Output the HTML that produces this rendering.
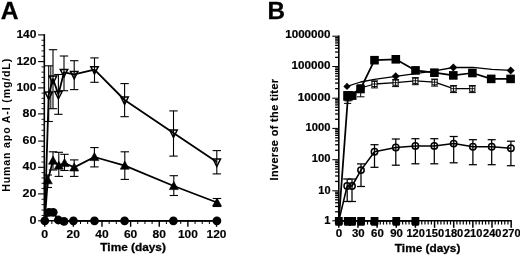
<!DOCTYPE html>
<html><head><meta charset="utf-8"><title>Figure</title>
<style>
html,body{margin:0;padding:0;background:#fff;}
body{width:520px;height:255px;overflow:hidden;font-family:"Liberation Sans",sans-serif;}
svg{display:block;filter:blur(0.3px)}
</style></head><body>
<svg width="520" height="255" viewBox="0 0 520 255">
<rect width="520" height="255" fill="#fff"/>
<text x="0.8" y="19.4" font-family="Liberation Sans, sans-serif" font-size="24.6" font-weight="bold" text-anchor="start" fill="#000" stroke="#000" stroke-width="0.3">A</text>
<line x1="44.30" y1="34.20" x2="44.30" y2="221.55" stroke="#000" stroke-width="1.6" />
<line x1="43.90" y1="220.80" x2="217.14" y2="220.80" stroke="#000" stroke-width="1.5" />
<line x1="38.10" y1="220.80" x2="44.30" y2="220.80" stroke="#000" stroke-width="1.1" />
<text x="36.4" y="223.8" font-family="Liberation Sans, sans-serif" font-size="11" font-weight="bold" text-anchor="end" fill="#000" stroke="#000" stroke-width="0.15" textLength="7.0" lengthAdjust="spacingAndGlyphs">0</text>
<line x1="41.50" y1="215.42" x2="44.30" y2="215.42" stroke="#000" stroke-width="0.9" />
<line x1="41.50" y1="210.04" x2="44.30" y2="210.04" stroke="#000" stroke-width="0.9" />
<line x1="41.50" y1="204.66" x2="44.30" y2="204.66" stroke="#000" stroke-width="0.9" />
<line x1="41.50" y1="199.28" x2="44.30" y2="199.28" stroke="#000" stroke-width="0.9" />
<line x1="38.10" y1="193.90" x2="44.30" y2="193.90" stroke="#000" stroke-width="1.1" />
<text x="36.4" y="196.9" font-family="Liberation Sans, sans-serif" font-size="11" font-weight="bold" text-anchor="end" fill="#000" stroke="#000" stroke-width="0.15" textLength="13.8" lengthAdjust="spacingAndGlyphs">20</text>
<line x1="41.50" y1="188.58" x2="44.30" y2="188.58" stroke="#000" stroke-width="0.9" />
<line x1="41.50" y1="183.26" x2="44.30" y2="183.26" stroke="#000" stroke-width="0.9" />
<line x1="41.50" y1="177.94" x2="44.30" y2="177.94" stroke="#000" stroke-width="0.9" />
<line x1="41.50" y1="172.62" x2="44.30" y2="172.62" stroke="#000" stroke-width="0.9" />
<line x1="38.10" y1="167.30" x2="44.30" y2="167.30" stroke="#000" stroke-width="1.1" />
<text x="36.4" y="170.3" font-family="Liberation Sans, sans-serif" font-size="11" font-weight="bold" text-anchor="end" fill="#000" stroke="#000" stroke-width="0.15" textLength="13.8" lengthAdjust="spacingAndGlyphs">40</text>
<line x1="41.50" y1="162.06" x2="44.30" y2="162.06" stroke="#000" stroke-width="0.9" />
<line x1="41.50" y1="156.82" x2="44.30" y2="156.82" stroke="#000" stroke-width="0.9" />
<line x1="41.50" y1="151.58" x2="44.30" y2="151.58" stroke="#000" stroke-width="0.9" />
<line x1="41.50" y1="146.34" x2="44.30" y2="146.34" stroke="#000" stroke-width="0.9" />
<line x1="38.10" y1="141.10" x2="44.30" y2="141.10" stroke="#000" stroke-width="1.1" />
<text x="36.4" y="144.1" font-family="Liberation Sans, sans-serif" font-size="11" font-weight="bold" text-anchor="end" fill="#000" stroke="#000" stroke-width="0.15" textLength="13.8" lengthAdjust="spacingAndGlyphs">60</text>
<line x1="41.50" y1="135.66" x2="44.30" y2="135.66" stroke="#000" stroke-width="0.9" />
<line x1="41.50" y1="130.22" x2="44.30" y2="130.22" stroke="#000" stroke-width="0.9" />
<line x1="41.50" y1="124.78" x2="44.30" y2="124.78" stroke="#000" stroke-width="0.9" />
<line x1="41.50" y1="119.34" x2="44.30" y2="119.34" stroke="#000" stroke-width="0.9" />
<line x1="38.10" y1="113.90" x2="44.30" y2="113.90" stroke="#000" stroke-width="1.1" />
<text x="36.4" y="116.9" font-family="Liberation Sans, sans-serif" font-size="11" font-weight="bold" text-anchor="end" fill="#000" stroke="#000" stroke-width="0.15" textLength="13.8" lengthAdjust="spacingAndGlyphs">80</text>
<line x1="41.50" y1="108.70" x2="44.30" y2="108.70" stroke="#000" stroke-width="0.9" />
<line x1="41.50" y1="103.50" x2="44.30" y2="103.50" stroke="#000" stroke-width="0.9" />
<line x1="41.50" y1="98.30" x2="44.30" y2="98.30" stroke="#000" stroke-width="0.9" />
<line x1="41.50" y1="93.10" x2="44.30" y2="93.10" stroke="#000" stroke-width="0.9" />
<line x1="38.10" y1="87.90" x2="44.30" y2="87.90" stroke="#000" stroke-width="1.1" />
<text x="36.4" y="90.9" font-family="Liberation Sans, sans-serif" font-size="11" font-weight="bold" text-anchor="end" fill="#000" stroke="#000" stroke-width="0.15" textLength="20.0" lengthAdjust="spacingAndGlyphs">100</text>
<line x1="41.50" y1="82.64" x2="44.30" y2="82.64" stroke="#000" stroke-width="0.9" />
<line x1="41.50" y1="77.38" x2="44.30" y2="77.38" stroke="#000" stroke-width="0.9" />
<line x1="41.50" y1="72.12" x2="44.30" y2="72.12" stroke="#000" stroke-width="0.9" />
<line x1="41.50" y1="66.86" x2="44.30" y2="66.86" stroke="#000" stroke-width="0.9" />
<line x1="38.10" y1="61.60" x2="44.30" y2="61.60" stroke="#000" stroke-width="1.1" />
<text x="36.4" y="64.6" font-family="Liberation Sans, sans-serif" font-size="11" font-weight="bold" text-anchor="end" fill="#000" stroke="#000" stroke-width="0.15" textLength="20.0" lengthAdjust="spacingAndGlyphs">120</text>
<line x1="41.50" y1="56.26" x2="44.30" y2="56.26" stroke="#000" stroke-width="0.9" />
<line x1="41.50" y1="50.92" x2="44.30" y2="50.92" stroke="#000" stroke-width="0.9" />
<line x1="41.50" y1="45.58" x2="44.30" y2="45.58" stroke="#000" stroke-width="0.9" />
<line x1="41.50" y1="40.24" x2="44.30" y2="40.24" stroke="#000" stroke-width="0.9" />
<line x1="38.10" y1="34.90" x2="44.30" y2="34.90" stroke="#000" stroke-width="1.1" />
<text x="36.4" y="37.9" font-family="Liberation Sans, sans-serif" font-size="11" font-weight="bold" text-anchor="end" fill="#000" stroke="#000" stroke-width="0.15" textLength="20.0" lengthAdjust="spacingAndGlyphs">140</text>
<line x1="44.70" y1="220.80" x2="44.70" y2="226.80" stroke="#000" stroke-width="1.4" />
<text x="44.7" y="237.5" font-family="Liberation Sans, sans-serif" font-size="11" font-weight="bold" text-anchor="middle" fill="#000" stroke="#000" stroke-width="0.15" textLength="6.9" lengthAdjust="spacingAndGlyphs">0</text>
<line x1="51.86" y1="220.80" x2="51.86" y2="224.00" stroke="#000" stroke-width="1.0" />
<line x1="59.02" y1="220.80" x2="59.02" y2="224.00" stroke="#000" stroke-width="1.0" />
<line x1="66.18" y1="220.80" x2="66.18" y2="224.00" stroke="#000" stroke-width="1.0" />
<line x1="73.34" y1="220.80" x2="73.34" y2="226.80" stroke="#000" stroke-width="1.4" />
<text x="73.34" y="237.5" font-family="Liberation Sans, sans-serif" font-size="11" font-weight="bold" text-anchor="middle" fill="#000" stroke="#000" stroke-width="0.15" textLength="13.4" lengthAdjust="spacingAndGlyphs">20</text>
<line x1="80.50" y1="220.80" x2="80.50" y2="224.00" stroke="#000" stroke-width="1.0" />
<line x1="87.66" y1="220.80" x2="87.66" y2="224.00" stroke="#000" stroke-width="1.0" />
<line x1="94.82" y1="220.80" x2="94.82" y2="224.00" stroke="#000" stroke-width="1.0" />
<line x1="101.98" y1="220.80" x2="101.98" y2="226.80" stroke="#000" stroke-width="1.4" />
<text x="101.98" y="237.5" font-family="Liberation Sans, sans-serif" font-size="11" font-weight="bold" text-anchor="middle" fill="#000" stroke="#000" stroke-width="0.15" textLength="13.4" lengthAdjust="spacingAndGlyphs">40</text>
<line x1="109.14" y1="220.80" x2="109.14" y2="224.00" stroke="#000" stroke-width="1.0" />
<line x1="116.30" y1="220.80" x2="116.30" y2="224.00" stroke="#000" stroke-width="1.0" />
<line x1="123.46" y1="220.80" x2="123.46" y2="224.00" stroke="#000" stroke-width="1.0" />
<line x1="130.62" y1="220.80" x2="130.62" y2="226.80" stroke="#000" stroke-width="1.4" />
<text x="130.62" y="237.5" font-family="Liberation Sans, sans-serif" font-size="11" font-weight="bold" text-anchor="middle" fill="#000" stroke="#000" stroke-width="0.15" textLength="13.4" lengthAdjust="spacingAndGlyphs">60</text>
<line x1="137.78" y1="220.80" x2="137.78" y2="224.00" stroke="#000" stroke-width="1.0" />
<line x1="144.94" y1="220.80" x2="144.94" y2="224.00" stroke="#000" stroke-width="1.0" />
<line x1="152.10" y1="220.80" x2="152.10" y2="224.00" stroke="#000" stroke-width="1.0" />
<line x1="159.26" y1="220.80" x2="159.26" y2="226.80" stroke="#000" stroke-width="1.4" />
<text x="159.26" y="237.5" font-family="Liberation Sans, sans-serif" font-size="11" font-weight="bold" text-anchor="middle" fill="#000" stroke="#000" stroke-width="0.15" textLength="13.4" lengthAdjust="spacingAndGlyphs">80</text>
<line x1="166.42" y1="220.80" x2="166.42" y2="224.00" stroke="#000" stroke-width="1.0" />
<line x1="173.58" y1="220.80" x2="173.58" y2="224.00" stroke="#000" stroke-width="1.0" />
<line x1="180.74" y1="220.80" x2="180.74" y2="224.00" stroke="#000" stroke-width="1.0" />
<line x1="187.90" y1="220.80" x2="187.90" y2="226.80" stroke="#000" stroke-width="1.4" />
<text x="187.89999999999998" y="237.5" font-family="Liberation Sans, sans-serif" font-size="11" font-weight="bold" text-anchor="middle" fill="#000" stroke="#000" stroke-width="0.15" textLength="19.9" lengthAdjust="spacingAndGlyphs">100</text>
<line x1="195.06" y1="220.80" x2="195.06" y2="224.00" stroke="#000" stroke-width="1.0" />
<line x1="202.22" y1="220.80" x2="202.22" y2="224.00" stroke="#000" stroke-width="1.0" />
<line x1="209.38" y1="220.80" x2="209.38" y2="224.00" stroke="#000" stroke-width="1.0" />
<line x1="216.54" y1="220.80" x2="216.54" y2="226.80" stroke="#000" stroke-width="1.4" />
<text x="216.54000000000002" y="237.5" font-family="Liberation Sans, sans-serif" font-size="11" font-weight="bold" text-anchor="middle" fill="#000" stroke="#000" stroke-width="0.15" textLength="19.9" lengthAdjust="spacingAndGlyphs">120</text>
<text x="133.1" y="251.4" font-family="Liberation Sans, sans-serif" font-size="11.5" font-weight="bold" text-anchor="middle" fill="#000" stroke="#000" stroke-width="0.3" textLength="65.5" lengthAdjust="spacingAndGlyphs">Time (days)</text>
<text x="9.6" y="191.8" font-family="Liberation Sans, sans-serif" font-size="10.6" font-weight="bold" text-anchor="start" fill="#000" stroke="#000" stroke-width="0" textLength="133.0" lengthAdjust="spacing" transform="rotate(-90 9.6 191.8)">Human apo A-I (mg/dL)</text>
<line x1="48.70" y1="65.80" x2="48.70" y2="121.50" stroke="#000" stroke-width="1.1" />
<line x1="44.50" y1="65.80" x2="52.90" y2="65.80" stroke="#000" stroke-width="1.1" />
<line x1="44.50" y1="121.50" x2="52.90" y2="121.50" stroke="#000" stroke-width="1.1" />
<line x1="53.00" y1="49.70" x2="53.00" y2="108.70" stroke="#000" stroke-width="1.1" />
<line x1="48.80" y1="49.70" x2="57.20" y2="49.70" stroke="#000" stroke-width="1.1" />
<line x1="48.80" y1="108.70" x2="57.20" y2="108.70" stroke="#000" stroke-width="1.1" />
<line x1="58.40" y1="74.50" x2="58.40" y2="114.30" stroke="#000" stroke-width="1.1" />
<line x1="54.20" y1="74.50" x2="62.60" y2="74.50" stroke="#000" stroke-width="1.1" />
<line x1="54.20" y1="114.30" x2="62.60" y2="114.30" stroke="#000" stroke-width="1.1" />
<line x1="64.00" y1="56.00" x2="64.00" y2="90.70" stroke="#000" stroke-width="1.1" />
<line x1="59.80" y1="56.00" x2="68.20" y2="56.00" stroke="#000" stroke-width="1.1" />
<line x1="59.80" y1="90.70" x2="68.20" y2="90.70" stroke="#000" stroke-width="1.1" />
<line x1="74.20" y1="60.70" x2="74.20" y2="89.60" stroke="#000" stroke-width="1.1" />
<line x1="70.00" y1="60.70" x2="78.40" y2="60.70" stroke="#000" stroke-width="1.1" />
<line x1="70.00" y1="89.60" x2="78.40" y2="89.60" stroke="#000" stroke-width="1.1" />
<line x1="94.50" y1="57.90" x2="94.50" y2="82.30" stroke="#000" stroke-width="1.1" />
<line x1="90.30" y1="57.90" x2="98.70" y2="57.90" stroke="#000" stroke-width="1.1" />
<line x1="90.30" y1="82.30" x2="98.70" y2="82.30" stroke="#000" stroke-width="1.1" />
<line x1="124.60" y1="83.60" x2="124.60" y2="116.70" stroke="#000" stroke-width="1.1" />
<line x1="120.40" y1="83.60" x2="128.80" y2="83.60" stroke="#000" stroke-width="1.1" />
<line x1="120.40" y1="116.70" x2="128.80" y2="116.70" stroke="#000" stroke-width="1.1" />
<line x1="173.50" y1="110.90" x2="173.50" y2="156.10" stroke="#000" stroke-width="1.1" />
<line x1="169.30" y1="110.90" x2="177.70" y2="110.90" stroke="#000" stroke-width="1.1" />
<line x1="169.30" y1="156.10" x2="177.70" y2="156.10" stroke="#000" stroke-width="1.1" />
<line x1="216.80" y1="150.60" x2="216.80" y2="173.90" stroke="#000" stroke-width="1.1" />
<line x1="212.60" y1="150.60" x2="221.00" y2="150.60" stroke="#000" stroke-width="1.1" />
<line x1="212.60" y1="173.90" x2="221.00" y2="173.90" stroke="#000" stroke-width="1.1" />
<line x1="47.80" y1="175.00" x2="47.80" y2="187.50" stroke="#000" stroke-width="1.1" />
<line x1="43.60" y1="175.00" x2="52.00" y2="175.00" stroke="#000" stroke-width="1.1" />
<line x1="43.60" y1="187.50" x2="52.00" y2="187.50" stroke="#000" stroke-width="1.1" />
<line x1="53.00" y1="151.80" x2="53.00" y2="170.00" stroke="#000" stroke-width="1.1" />
<line x1="48.80" y1="151.80" x2="57.20" y2="151.80" stroke="#000" stroke-width="1.1" />
<line x1="48.80" y1="170.00" x2="57.20" y2="170.00" stroke="#000" stroke-width="1.1" />
<line x1="58.80" y1="152.30" x2="58.80" y2="176.40" stroke="#000" stroke-width="1.1" />
<line x1="54.60" y1="152.30" x2="63.00" y2="152.30" stroke="#000" stroke-width="1.1" />
<line x1="54.60" y1="176.40" x2="63.00" y2="176.40" stroke="#000" stroke-width="1.1" />
<line x1="64.50" y1="154.30" x2="64.50" y2="170.50" stroke="#000" stroke-width="1.1" />
<line x1="60.30" y1="154.30" x2="68.70" y2="154.30" stroke="#000" stroke-width="1.1" />
<line x1="60.30" y1="170.50" x2="68.70" y2="170.50" stroke="#000" stroke-width="1.1" />
<line x1="74.20" y1="159.90" x2="74.20" y2="176.40" stroke="#000" stroke-width="1.1" />
<line x1="70.00" y1="159.90" x2="78.40" y2="159.90" stroke="#000" stroke-width="1.1" />
<line x1="70.00" y1="176.40" x2="78.40" y2="176.40" stroke="#000" stroke-width="1.1" />
<line x1="94.40" y1="147.60" x2="94.40" y2="166.90" stroke="#000" stroke-width="1.1" />
<line x1="90.20" y1="147.60" x2="98.60" y2="147.60" stroke="#000" stroke-width="1.1" />
<line x1="90.20" y1="166.90" x2="98.60" y2="166.90" stroke="#000" stroke-width="1.1" />
<line x1="124.80" y1="151.80" x2="124.80" y2="179.40" stroke="#000" stroke-width="1.1" />
<line x1="120.60" y1="151.80" x2="129.00" y2="151.80" stroke="#000" stroke-width="1.1" />
<line x1="120.60" y1="179.40" x2="129.00" y2="179.40" stroke="#000" stroke-width="1.1" />
<line x1="173.80" y1="175.70" x2="173.80" y2="195.50" stroke="#000" stroke-width="1.1" />
<line x1="169.60" y1="175.70" x2="178.00" y2="175.70" stroke="#000" stroke-width="1.1" />
<line x1="169.60" y1="195.50" x2="178.00" y2="195.50" stroke="#000" stroke-width="1.1" />
<line x1="217.00" y1="198.50" x2="217.00" y2="206.50" stroke="#000" stroke-width="1.1" />
<line x1="212.80" y1="198.50" x2="221.20" y2="198.50" stroke="#000" stroke-width="1.1" />
<line x1="212.80" y1="206.50" x2="221.20" y2="206.50" stroke="#000" stroke-width="1.1" />
<line x1="50.80" y1="66.00" x2="50.80" y2="108.70" stroke="#000" stroke-width="1.0" />
<polyline points="44.70,220.80 48.70,94.80 53.00,79.00 58.40,94.40 64.00,72.30 74.20,74.40 94.50,69.60 124.60,100.00 173.50,133.00 216.80,162.00" fill="none" stroke="#000" stroke-width="1.8" stroke-linejoin="round" />
<polyline points="44.70,220.80 47.80,180.20 53.00,160.60 58.80,165.60 64.50,163.00 74.20,167.40 94.40,157.00 124.80,165.60 173.80,186.00 217.00,202.50" fill="none" stroke="#000" stroke-width="1.8" stroke-linejoin="round" />
<polyline points="44.80,220.80 49.00,212.30 53.20,212.30 58.30,220.00 64.00,221.40 73.40,220.80 94.50,220.80 124.60,220.80 173.40,220.80 216.90,220.80" fill="none" stroke="#000" stroke-width="1.8" stroke-linejoin="round" />
<polygon points="45.00,91.90 52.40,91.90 48.70,99.30" fill="none" stroke="#000" stroke-width="1.5" stroke-linejoin="miter"/>
<polygon points="49.30,76.10 56.70,76.10 53.00,83.50" fill="none" stroke="#000" stroke-width="1.5" stroke-linejoin="miter"/>
<polygon points="54.70,91.50 62.10,91.50 58.40,98.90" fill="none" stroke="#000" stroke-width="1.5" stroke-linejoin="miter"/>
<polygon points="60.30,69.40 67.70,69.40 64.00,76.80" fill="none" stroke="#000" stroke-width="1.5" stroke-linejoin="miter"/>
<polygon points="70.50,71.50 77.90,71.50 74.20,78.90" fill="none" stroke="#000" stroke-width="1.5" stroke-linejoin="miter"/>
<polygon points="90.80,66.70 98.20,66.70 94.50,74.10" fill="none" stroke="#000" stroke-width="1.5" stroke-linejoin="miter"/>
<polygon points="120.90,97.10 128.30,97.10 124.60,104.50" fill="none" stroke="#000" stroke-width="1.5" stroke-linejoin="miter"/>
<polygon points="169.80,130.10 177.20,130.10 173.50,137.50" fill="none" stroke="#000" stroke-width="1.5" stroke-linejoin="miter"/>
<polygon points="213.10,159.10 220.50,159.10 216.80,166.50" fill="none" stroke="#000" stroke-width="1.5" stroke-linejoin="miter"/>
<polygon points="43.30,183.80 52.30,183.80 47.80,175.70" fill="#000" stroke="#000" stroke-width="0.6"/>
<polygon points="48.50,164.20 57.50,164.20 53.00,156.10" fill="#000" stroke="#000" stroke-width="0.6"/>
<polygon points="54.30,169.20 63.30,169.20 58.80,161.10" fill="#000" stroke="#000" stroke-width="0.6"/>
<polygon points="60.00,166.60 69.00,166.60 64.50,158.50" fill="#000" stroke="#000" stroke-width="0.6"/>
<polygon points="69.70,171.00 78.70,171.00 74.20,162.90" fill="#000" stroke="#000" stroke-width="0.6"/>
<polygon points="89.90,160.60 98.90,160.60 94.40,152.50" fill="#000" stroke="#000" stroke-width="0.6"/>
<polygon points="120.30,169.20 129.30,169.20 124.80,161.10" fill="#000" stroke="#000" stroke-width="0.6"/>
<polygon points="169.30,189.60 178.30,189.60 173.80,181.50" fill="#000" stroke="#000" stroke-width="0.6"/>
<polygon points="212.50,206.10 221.50,206.10 217.00,198.00" fill="#000" stroke="#000" stroke-width="0.6"/>
<circle cx="44.80" cy="220.80" r="4.4" fill="#000"/>
<circle cx="49.00" cy="212.30" r="4.4" fill="#000"/>
<circle cx="53.20" cy="212.30" r="4.4" fill="#000"/>
<circle cx="58.30" cy="220.00" r="4.4" fill="#000"/>
<circle cx="64.00" cy="221.40" r="4.4" fill="#000"/>
<circle cx="73.40" cy="220.80" r="4.4" fill="#000"/>
<circle cx="94.50" cy="220.80" r="4.4" fill="#000"/>
<circle cx="124.60" cy="220.80" r="4.4" fill="#000"/>
<circle cx="173.40" cy="220.80" r="4.4" fill="#000"/>
<circle cx="216.90" cy="220.80" r="4.4" fill="#000"/>
<text x="267.5" y="19.0" font-family="Liberation Sans, sans-serif" font-size="24.2" font-weight="bold" text-anchor="start" fill="#000" stroke="#000" stroke-width="0.3">B</text>
<line x1="338.80" y1="35.50" x2="338.80" y2="221.55" stroke="#000" stroke-width="1.6" />
<line x1="338.00" y1="220.80" x2="511.75" y2="220.80" stroke="#000" stroke-width="1.5" />
<line x1="332.30" y1="220.80" x2="338.80" y2="220.80" stroke="#000" stroke-width="1.05" />
<text x="330.5" y="223.5" font-family="Liberation Sans, sans-serif" font-size="10.6" font-weight="bold" text-anchor="end" fill="#000" stroke="#000" stroke-width="0.2" textLength="6.2" lengthAdjust="spacingAndGlyphs">1</text>
<line x1="335.10" y1="211.77" x2="338.80" y2="211.77" stroke="#000" stroke-width="1.3" />
<line x1="335.10" y1="206.49" x2="338.80" y2="206.49" stroke="#000" stroke-width="1.3" />
<line x1="335.10" y1="202.74" x2="338.80" y2="202.74" stroke="#000" stroke-width="1.3" />
<line x1="335.10" y1="199.83" x2="338.80" y2="199.83" stroke="#000" stroke-width="1.3" />
<line x1="335.10" y1="197.46" x2="338.80" y2="197.46" stroke="#000" stroke-width="1.3" />
<line x1="335.10" y1="195.45" x2="338.80" y2="195.45" stroke="#000" stroke-width="1.3" />
<line x1="335.10" y1="193.71" x2="338.80" y2="193.71" stroke="#000" stroke-width="1.3" />
<line x1="335.10" y1="192.17" x2="338.80" y2="192.17" stroke="#000" stroke-width="1.3" />
<line x1="332.30" y1="190.80" x2="338.80" y2="190.80" stroke="#000" stroke-width="1.05" />
<text x="330.5" y="193.5" font-family="Liberation Sans, sans-serif" font-size="10.6" font-weight="bold" text-anchor="end" fill="#000" stroke="#000" stroke-width="0.2" textLength="12.2" lengthAdjust="spacingAndGlyphs">10</text>
<line x1="335.10" y1="181.44" x2="338.80" y2="181.44" stroke="#000" stroke-width="1.3" />
<line x1="335.10" y1="175.96" x2="338.80" y2="175.96" stroke="#000" stroke-width="1.3" />
<line x1="335.10" y1="172.08" x2="338.80" y2="172.08" stroke="#000" stroke-width="1.3" />
<line x1="335.10" y1="169.06" x2="338.80" y2="169.06" stroke="#000" stroke-width="1.3" />
<line x1="335.10" y1="166.60" x2="338.80" y2="166.60" stroke="#000" stroke-width="1.3" />
<line x1="335.10" y1="164.52" x2="338.80" y2="164.52" stroke="#000" stroke-width="1.3" />
<line x1="335.10" y1="162.71" x2="338.80" y2="162.71" stroke="#000" stroke-width="1.3" />
<line x1="335.10" y1="161.12" x2="338.80" y2="161.12" stroke="#000" stroke-width="1.3" />
<line x1="332.30" y1="159.70" x2="338.80" y2="159.70" stroke="#000" stroke-width="1.05" />
<text x="330.5" y="162.39999999999998" font-family="Liberation Sans, sans-serif" font-size="10.6" font-weight="bold" text-anchor="end" fill="#000" stroke="#000" stroke-width="0.2" textLength="18.8" lengthAdjust="spacingAndGlyphs">100</text>
<line x1="335.10" y1="150.28" x2="338.80" y2="150.28" stroke="#000" stroke-width="1.3" />
<line x1="335.10" y1="144.77" x2="338.80" y2="144.77" stroke="#000" stroke-width="1.3" />
<line x1="335.10" y1="140.86" x2="338.80" y2="140.86" stroke="#000" stroke-width="1.3" />
<line x1="335.10" y1="137.82" x2="338.80" y2="137.82" stroke="#000" stroke-width="1.3" />
<line x1="335.10" y1="135.34" x2="338.80" y2="135.34" stroke="#000" stroke-width="1.3" />
<line x1="335.10" y1="133.25" x2="338.80" y2="133.25" stroke="#000" stroke-width="1.3" />
<line x1="335.10" y1="131.43" x2="338.80" y2="131.43" stroke="#000" stroke-width="1.3" />
<line x1="335.10" y1="129.83" x2="338.80" y2="129.83" stroke="#000" stroke-width="1.3" />
<line x1="332.30" y1="128.40" x2="338.80" y2="128.40" stroke="#000" stroke-width="1.05" />
<text x="330.5" y="131.1" font-family="Liberation Sans, sans-serif" font-size="10.6" font-weight="bold" text-anchor="end" fill="#000" stroke="#000" stroke-width="0.2" textLength="24.9" lengthAdjust="spacingAndGlyphs">1000</text>
<line x1="335.10" y1="119.31" x2="338.80" y2="119.31" stroke="#000" stroke-width="1.3" />
<line x1="335.10" y1="113.99" x2="338.80" y2="113.99" stroke="#000" stroke-width="1.3" />
<line x1="335.10" y1="110.22" x2="338.80" y2="110.22" stroke="#000" stroke-width="1.3" />
<line x1="335.10" y1="107.29" x2="338.80" y2="107.29" stroke="#000" stroke-width="1.3" />
<line x1="335.10" y1="104.90" x2="338.80" y2="104.90" stroke="#000" stroke-width="1.3" />
<line x1="335.10" y1="102.88" x2="338.80" y2="102.88" stroke="#000" stroke-width="1.3" />
<line x1="335.10" y1="101.13" x2="338.80" y2="101.13" stroke="#000" stroke-width="1.3" />
<line x1="335.10" y1="99.58" x2="338.80" y2="99.58" stroke="#000" stroke-width="1.3" />
<line x1="332.30" y1="98.20" x2="338.80" y2="98.20" stroke="#000" stroke-width="1.05" />
<text x="330.5" y="100.9" font-family="Liberation Sans, sans-serif" font-size="10.6" font-weight="bold" text-anchor="end" fill="#000" stroke="#000" stroke-width="0.2" textLength="32.7" lengthAdjust="spacingAndGlyphs">10000</text>
<line x1="335.10" y1="88.66" x2="338.80" y2="88.66" stroke="#000" stroke-width="1.3" />
<line x1="335.10" y1="83.08" x2="338.80" y2="83.08" stroke="#000" stroke-width="1.3" />
<line x1="335.10" y1="79.11" x2="338.80" y2="79.11" stroke="#000" stroke-width="1.3" />
<line x1="335.10" y1="76.04" x2="338.80" y2="76.04" stroke="#000" stroke-width="1.3" />
<line x1="335.10" y1="73.53" x2="338.80" y2="73.53" stroke="#000" stroke-width="1.3" />
<line x1="335.10" y1="71.41" x2="338.80" y2="71.41" stroke="#000" stroke-width="1.3" />
<line x1="335.10" y1="69.57" x2="338.80" y2="69.57" stroke="#000" stroke-width="1.3" />
<line x1="335.10" y1="67.95" x2="338.80" y2="67.95" stroke="#000" stroke-width="1.3" />
<line x1="332.30" y1="66.50" x2="338.80" y2="66.50" stroke="#000" stroke-width="1.05" />
<text x="330.5" y="69.4" font-family="Liberation Sans, sans-serif" font-size="10.6" font-weight="bold" text-anchor="end" fill="#000" stroke="#000" stroke-width="0.2" textLength="38.9" lengthAdjust="spacingAndGlyphs">100000</text>
<line x1="335.10" y1="57.38" x2="338.80" y2="57.38" stroke="#000" stroke-width="1.3" />
<line x1="335.10" y1="52.04" x2="338.80" y2="52.04" stroke="#000" stroke-width="1.3" />
<line x1="335.10" y1="48.26" x2="338.80" y2="48.26" stroke="#000" stroke-width="1.3" />
<line x1="335.10" y1="45.32" x2="338.80" y2="45.32" stroke="#000" stroke-width="1.3" />
<line x1="335.10" y1="42.92" x2="338.80" y2="42.92" stroke="#000" stroke-width="1.3" />
<line x1="335.10" y1="40.89" x2="338.80" y2="40.89" stroke="#000" stroke-width="1.3" />
<line x1="335.10" y1="39.14" x2="338.80" y2="39.14" stroke="#000" stroke-width="1.3" />
<line x1="335.10" y1="37.59" x2="338.80" y2="37.59" stroke="#000" stroke-width="1.3" />
<line x1="332.30" y1="36.20" x2="338.80" y2="36.20" stroke="#000" stroke-width="1.05" />
<text x="330.5" y="38.400000000000006" font-family="Liberation Sans, sans-serif" font-size="10.6" font-weight="bold" text-anchor="end" fill="#000" stroke="#000" stroke-width="0.2" textLength="45.3" lengthAdjust="spacingAndGlyphs">1000000</text>
<line x1="338.80" y1="220.80" x2="338.80" y2="227.80" stroke="#000" stroke-width="1.5" />
<text x="339.1" y="237.2" font-family="Liberation Sans, sans-serif" font-size="10.6" font-weight="bold" text-anchor="middle" fill="#000" stroke="#000" stroke-width="0.2" textLength="6.5" lengthAdjust="spacingAndGlyphs">0</text>
<line x1="341.99" y1="220.80" x2="341.99" y2="224.60" stroke="#000" stroke-width="1.2" />
<line x1="345.18" y1="220.80" x2="345.18" y2="224.60" stroke="#000" stroke-width="1.2" />
<line x1="348.38" y1="220.80" x2="348.38" y2="224.60" stroke="#000" stroke-width="1.2" />
<line x1="351.57" y1="220.80" x2="351.57" y2="224.60" stroke="#000" stroke-width="1.2" />
<line x1="354.76" y1="220.80" x2="354.76" y2="224.60" stroke="#000" stroke-width="1.2" />
<line x1="357.95" y1="220.80" x2="357.95" y2="227.80" stroke="#000" stroke-width="1.5" />
<text x="358.25" y="237.2" font-family="Liberation Sans, sans-serif" font-size="10.6" font-weight="bold" text-anchor="middle" fill="#000" stroke="#000" stroke-width="0.2" textLength="12.7" lengthAdjust="spacingAndGlyphs">30</text>
<line x1="361.14" y1="220.80" x2="361.14" y2="224.60" stroke="#000" stroke-width="1.2" />
<line x1="364.33" y1="220.80" x2="364.33" y2="224.60" stroke="#000" stroke-width="1.2" />
<line x1="367.53" y1="220.80" x2="367.53" y2="224.60" stroke="#000" stroke-width="1.2" />
<line x1="370.72" y1="220.80" x2="370.72" y2="224.60" stroke="#000" stroke-width="1.2" />
<line x1="373.91" y1="220.80" x2="373.91" y2="224.60" stroke="#000" stroke-width="1.2" />
<line x1="377.10" y1="220.80" x2="377.10" y2="227.80" stroke="#000" stroke-width="1.5" />
<text x="377.40000000000003" y="237.2" font-family="Liberation Sans, sans-serif" font-size="10.6" font-weight="bold" text-anchor="middle" fill="#000" stroke="#000" stroke-width="0.2" textLength="12.7" lengthAdjust="spacingAndGlyphs">60</text>
<line x1="380.29" y1="220.80" x2="380.29" y2="224.60" stroke="#000" stroke-width="1.2" />
<line x1="383.48" y1="220.80" x2="383.48" y2="224.60" stroke="#000" stroke-width="1.2" />
<line x1="386.68" y1="220.80" x2="386.68" y2="224.60" stroke="#000" stroke-width="1.2" />
<line x1="389.87" y1="220.80" x2="389.87" y2="224.60" stroke="#000" stroke-width="1.2" />
<line x1="393.06" y1="220.80" x2="393.06" y2="224.60" stroke="#000" stroke-width="1.2" />
<line x1="396.25" y1="220.80" x2="396.25" y2="227.80" stroke="#000" stroke-width="1.5" />
<text x="396.55" y="237.2" font-family="Liberation Sans, sans-serif" font-size="10.6" font-weight="bold" text-anchor="middle" fill="#000" stroke="#000" stroke-width="0.2" textLength="12.7" lengthAdjust="spacingAndGlyphs">90</text>
<line x1="399.44" y1="220.80" x2="399.44" y2="224.60" stroke="#000" stroke-width="1.2" />
<line x1="402.63" y1="220.80" x2="402.63" y2="224.60" stroke="#000" stroke-width="1.2" />
<line x1="405.82" y1="220.80" x2="405.82" y2="224.60" stroke="#000" stroke-width="1.2" />
<line x1="409.02" y1="220.80" x2="409.02" y2="224.60" stroke="#000" stroke-width="1.2" />
<line x1="412.21" y1="220.80" x2="412.21" y2="224.60" stroke="#000" stroke-width="1.2" />
<line x1="415.40" y1="220.80" x2="415.40" y2="227.80" stroke="#000" stroke-width="1.5" />
<text x="415.7" y="237.2" font-family="Liberation Sans, sans-serif" font-size="10.6" font-weight="bold" text-anchor="middle" fill="#000" stroke="#000" stroke-width="0.2" textLength="18.5" lengthAdjust="spacingAndGlyphs">120</text>
<line x1="418.59" y1="220.80" x2="418.59" y2="224.60" stroke="#000" stroke-width="1.2" />
<line x1="421.78" y1="220.80" x2="421.78" y2="224.60" stroke="#000" stroke-width="1.2" />
<line x1="424.98" y1="220.80" x2="424.98" y2="224.60" stroke="#000" stroke-width="1.2" />
<line x1="428.17" y1="220.80" x2="428.17" y2="224.60" stroke="#000" stroke-width="1.2" />
<line x1="431.36" y1="220.80" x2="431.36" y2="224.60" stroke="#000" stroke-width="1.2" />
<line x1="434.55" y1="220.80" x2="434.55" y2="227.80" stroke="#000" stroke-width="1.5" />
<text x="434.85" y="237.2" font-family="Liberation Sans, sans-serif" font-size="10.6" font-weight="bold" text-anchor="middle" fill="#000" stroke="#000" stroke-width="0.2" textLength="18.5" lengthAdjust="spacingAndGlyphs">150</text>
<line x1="437.74" y1="220.80" x2="437.74" y2="224.60" stroke="#000" stroke-width="1.2" />
<line x1="440.93" y1="220.80" x2="440.93" y2="224.60" stroke="#000" stroke-width="1.2" />
<line x1="444.12" y1="220.80" x2="444.12" y2="224.60" stroke="#000" stroke-width="1.2" />
<line x1="447.32" y1="220.80" x2="447.32" y2="224.60" stroke="#000" stroke-width="1.2" />
<line x1="450.51" y1="220.80" x2="450.51" y2="224.60" stroke="#000" stroke-width="1.2" />
<line x1="453.70" y1="220.80" x2="453.70" y2="227.80" stroke="#000" stroke-width="1.5" />
<text x="454.0" y="237.2" font-family="Liberation Sans, sans-serif" font-size="10.6" font-weight="bold" text-anchor="middle" fill="#000" stroke="#000" stroke-width="0.2" textLength="18.5" lengthAdjust="spacingAndGlyphs">180</text>
<line x1="456.89" y1="220.80" x2="456.89" y2="224.60" stroke="#000" stroke-width="1.2" />
<line x1="460.08" y1="220.80" x2="460.08" y2="224.60" stroke="#000" stroke-width="1.2" />
<line x1="463.27" y1="220.80" x2="463.27" y2="224.60" stroke="#000" stroke-width="1.2" />
<line x1="466.47" y1="220.80" x2="466.47" y2="224.60" stroke="#000" stroke-width="1.2" />
<line x1="469.66" y1="220.80" x2="469.66" y2="224.60" stroke="#000" stroke-width="1.2" />
<line x1="472.85" y1="220.80" x2="472.85" y2="227.80" stroke="#000" stroke-width="1.5" />
<text x="473.15000000000003" y="237.2" font-family="Liberation Sans, sans-serif" font-size="10.6" font-weight="bold" text-anchor="middle" fill="#000" stroke="#000" stroke-width="0.2" textLength="18.5" lengthAdjust="spacingAndGlyphs">210</text>
<line x1="476.04" y1="220.80" x2="476.04" y2="224.60" stroke="#000" stroke-width="1.2" />
<line x1="479.23" y1="220.80" x2="479.23" y2="224.60" stroke="#000" stroke-width="1.2" />
<line x1="482.43" y1="220.80" x2="482.43" y2="224.60" stroke="#000" stroke-width="1.2" />
<line x1="485.62" y1="220.80" x2="485.62" y2="224.60" stroke="#000" stroke-width="1.2" />
<line x1="488.81" y1="220.80" x2="488.81" y2="224.60" stroke="#000" stroke-width="1.2" />
<line x1="492.00" y1="220.80" x2="492.00" y2="227.80" stroke="#000" stroke-width="1.5" />
<text x="492.3" y="237.2" font-family="Liberation Sans, sans-serif" font-size="10.6" font-weight="bold" text-anchor="middle" fill="#000" stroke="#000" stroke-width="0.2" textLength="18.5" lengthAdjust="spacingAndGlyphs">240</text>
<line x1="495.19" y1="220.80" x2="495.19" y2="224.60" stroke="#000" stroke-width="1.2" />
<line x1="498.38" y1="220.80" x2="498.38" y2="224.60" stroke="#000" stroke-width="1.2" />
<line x1="501.58" y1="220.80" x2="501.58" y2="224.60" stroke="#000" stroke-width="1.2" />
<line x1="504.77" y1="220.80" x2="504.77" y2="224.60" stroke="#000" stroke-width="1.2" />
<line x1="507.96" y1="220.80" x2="507.96" y2="224.60" stroke="#000" stroke-width="1.2" />
<line x1="511.15" y1="220.80" x2="511.15" y2="227.80" stroke="#000" stroke-width="1.5" />
<text x="511.45" y="237.2" font-family="Liberation Sans, sans-serif" font-size="10.6" font-weight="bold" text-anchor="middle" fill="#000" stroke="#000" stroke-width="0.2" textLength="18.5" lengthAdjust="spacingAndGlyphs">270</text>
<text x="427.6" y="251.5" font-family="Liberation Sans, sans-serif" font-size="11.5" font-weight="bold" text-anchor="middle" fill="#000" stroke="#000" stroke-width="0.3" textLength="65.5" lengthAdjust="spacingAndGlyphs">Time (days)</text>
<text x="277.8" y="180.4" font-family="Liberation Sans, sans-serif" font-size="10.8" font-weight="bold" text-anchor="start" fill="#000" stroke="#000" stroke-width="0.2" textLength="101.4" lengthAdjust="spacing" transform="rotate(-90 277.8 180.4)">Inverse of the titer</text>
<line x1="347.20" y1="179.00" x2="347.20" y2="201.50" stroke="#000" stroke-width="1.25" />
<line x1="343.20" y1="179.00" x2="351.20" y2="179.00" stroke="#000" stroke-width="1.25" />
<line x1="343.20" y1="201.50" x2="351.20" y2="201.50" stroke="#000" stroke-width="1.25" />
<line x1="352.00" y1="179.00" x2="352.00" y2="201.50" stroke="#000" stroke-width="1.25" />
<line x1="348.00" y1="179.00" x2="356.00" y2="179.00" stroke="#000" stroke-width="1.25" />
<line x1="348.00" y1="201.50" x2="356.00" y2="201.50" stroke="#000" stroke-width="1.25" />
<line x1="361.00" y1="163.90" x2="361.00" y2="186.50" stroke="#000" stroke-width="1.25" />
<line x1="357.00" y1="163.90" x2="365.00" y2="163.90" stroke="#000" stroke-width="1.25" />
<line x1="357.00" y1="186.50" x2="365.00" y2="186.50" stroke="#000" stroke-width="1.25" />
<line x1="374.50" y1="144.70" x2="374.50" y2="167.30" stroke="#000" stroke-width="1.25" />
<line x1="370.50" y1="144.70" x2="378.50" y2="144.70" stroke="#000" stroke-width="1.25" />
<line x1="370.50" y1="167.30" x2="378.50" y2="167.30" stroke="#000" stroke-width="1.25" />
<line x1="395.80" y1="139.00" x2="395.80" y2="165.20" stroke="#000" stroke-width="1.25" />
<line x1="391.80" y1="139.00" x2="399.80" y2="139.00" stroke="#000" stroke-width="1.25" />
<line x1="391.80" y1="165.20" x2="399.80" y2="165.20" stroke="#000" stroke-width="1.25" />
<line x1="415.40" y1="138.70" x2="415.40" y2="163.80" stroke="#000" stroke-width="1.25" />
<line x1="411.40" y1="138.70" x2="419.40" y2="138.70" stroke="#000" stroke-width="1.25" />
<line x1="411.40" y1="163.80" x2="419.40" y2="163.80" stroke="#000" stroke-width="1.25" />
<line x1="434.30" y1="138.70" x2="434.30" y2="163.80" stroke="#000" stroke-width="1.25" />
<line x1="430.30" y1="138.70" x2="438.30" y2="138.70" stroke="#000" stroke-width="1.25" />
<line x1="430.30" y1="163.80" x2="438.30" y2="163.80" stroke="#000" stroke-width="1.25" />
<line x1="453.70" y1="136.50" x2="453.70" y2="162.80" stroke="#000" stroke-width="1.25" />
<line x1="449.70" y1="136.50" x2="457.70" y2="136.50" stroke="#000" stroke-width="1.25" />
<line x1="449.70" y1="162.80" x2="457.70" y2="162.80" stroke="#000" stroke-width="1.25" />
<line x1="472.90" y1="139.70" x2="472.90" y2="164.70" stroke="#000" stroke-width="1.25" />
<line x1="468.90" y1="139.70" x2="476.90" y2="139.70" stroke="#000" stroke-width="1.25" />
<line x1="468.90" y1="164.70" x2="476.90" y2="164.70" stroke="#000" stroke-width="1.25" />
<line x1="491.70" y1="139.70" x2="491.70" y2="164.70" stroke="#000" stroke-width="1.25" />
<line x1="487.70" y1="139.70" x2="495.70" y2="139.70" stroke="#000" stroke-width="1.25" />
<line x1="487.70" y1="164.70" x2="495.70" y2="164.70" stroke="#000" stroke-width="1.25" />
<line x1="510.90" y1="141.20" x2="510.90" y2="165.70" stroke="#000" stroke-width="1.25" />
<line x1="506.90" y1="141.20" x2="514.90" y2="141.20" stroke="#000" stroke-width="1.25" />
<line x1="506.90" y1="165.70" x2="514.90" y2="165.70" stroke="#000" stroke-width="1.25" />
<polyline points="338.80,220.80 347.20,186.00 352.00,186.00 361.00,170.10 374.50,151.70 395.80,147.50 415.40,145.90 434.30,145.90 453.70,143.60 472.90,146.80 491.70,146.80 510.90,148.20" fill="none" stroke="#000" stroke-width="1.55" stroke-linejoin="round" />
<circle cx="347.20" cy="186.00" r="3.2" fill="none" stroke="#000" stroke-width="1.5"/>
<circle cx="352.00" cy="186.00" r="3.2" fill="none" stroke="#000" stroke-width="1.5"/>
<circle cx="361.00" cy="170.10" r="3.2" fill="none" stroke="#000" stroke-width="1.5"/>
<circle cx="374.50" cy="151.70" r="3.2" fill="none" stroke="#000" stroke-width="1.5"/>
<circle cx="395.80" cy="147.50" r="3.2" fill="none" stroke="#000" stroke-width="1.5"/>
<circle cx="415.40" cy="145.90" r="3.2" fill="none" stroke="#000" stroke-width="1.5"/>
<circle cx="434.30" cy="145.90" r="3.2" fill="none" stroke="#000" stroke-width="1.5"/>
<circle cx="453.70" cy="143.60" r="3.2" fill="none" stroke="#000" stroke-width="1.5"/>
<circle cx="472.90" cy="146.80" r="3.2" fill="none" stroke="#000" stroke-width="1.5"/>
<circle cx="491.70" cy="146.80" r="3.2" fill="none" stroke="#000" stroke-width="1.5"/>
<circle cx="510.90" cy="148.20" r="3.2" fill="none" stroke="#000" stroke-width="1.5"/>
<line x1="348.00" y1="93.90" x2="348.00" y2="100.90" stroke="#000" stroke-width="1.0" />
<line x1="344.50" y1="93.90" x2="351.50" y2="93.90" stroke="#000" stroke-width="1.0" />
<line x1="344.50" y1="100.90" x2="351.50" y2="100.90" stroke="#000" stroke-width="1.0" />
<line x1="360.70" y1="84.90" x2="360.70" y2="91.90" stroke="#000" stroke-width="1.0" />
<line x1="357.20" y1="84.90" x2="364.20" y2="84.90" stroke="#000" stroke-width="1.0" />
<line x1="357.20" y1="91.90" x2="364.20" y2="91.90" stroke="#000" stroke-width="1.0" />
<line x1="374.50" y1="80.90" x2="374.50" y2="87.90" stroke="#000" stroke-width="1.0" />
<line x1="371.00" y1="80.90" x2="378.00" y2="80.90" stroke="#000" stroke-width="1.0" />
<line x1="371.00" y1="87.90" x2="378.00" y2="87.90" stroke="#000" stroke-width="1.0" />
<line x1="395.60" y1="79.60" x2="395.60" y2="86.60" stroke="#000" stroke-width="1.0" />
<line x1="392.10" y1="79.60" x2="399.10" y2="79.60" stroke="#000" stroke-width="1.0" />
<line x1="392.10" y1="86.60" x2="399.10" y2="86.60" stroke="#000" stroke-width="1.0" />
<line x1="415.40" y1="77.70" x2="415.40" y2="84.70" stroke="#000" stroke-width="1.0" />
<line x1="411.90" y1="77.70" x2="418.90" y2="77.70" stroke="#000" stroke-width="1.0" />
<line x1="411.90" y1="84.70" x2="418.90" y2="84.70" stroke="#000" stroke-width="1.0" />
<line x1="434.60" y1="79.10" x2="434.60" y2="86.10" stroke="#000" stroke-width="1.0" />
<line x1="431.10" y1="79.10" x2="438.10" y2="79.10" stroke="#000" stroke-width="1.0" />
<line x1="431.10" y1="86.10" x2="438.10" y2="86.10" stroke="#000" stroke-width="1.0" />
<line x1="453.50" y1="85.60" x2="453.50" y2="92.60" stroke="#000" stroke-width="1.0" />
<line x1="450.00" y1="85.60" x2="457.00" y2="85.60" stroke="#000" stroke-width="1.0" />
<line x1="450.00" y1="92.60" x2="457.00" y2="92.60" stroke="#000" stroke-width="1.0" />
<line x1="472.30" y1="85.60" x2="472.30" y2="92.60" stroke="#000" stroke-width="1.0" />
<line x1="468.80" y1="85.60" x2="475.80" y2="85.60" stroke="#000" stroke-width="1.0" />
<line x1="468.80" y1="92.60" x2="475.80" y2="92.60" stroke="#000" stroke-width="1.0" />
<polyline points="348.00,97.00 360.70,88.00 374.50,84.00 395.60,82.70 415.40,80.80 434.60,82.20 453.50,88.70 472.30,88.70" fill="none" stroke="#000" stroke-width="1.3" stroke-linejoin="round" />
<rect x="345.40" y="94.40" width="5.2" height="5.2" fill="#fff" stroke="#000" stroke-width="1.0"/>
<line x1="348.00" y1="94.40" x2="348.00" y2="99.60" stroke="#000" stroke-width="0.9" />
<line x1="345.40" y1="97.00" x2="350.60" y2="97.00" stroke="#000" stroke-width="0.9" />
<rect x="358.10" y="85.40" width="5.2" height="5.2" fill="#fff" stroke="#000" stroke-width="1.0"/>
<line x1="360.70" y1="85.40" x2="360.70" y2="90.60" stroke="#000" stroke-width="0.9" />
<line x1="358.10" y1="88.00" x2="363.30" y2="88.00" stroke="#000" stroke-width="0.9" />
<rect x="371.90" y="81.40" width="5.2" height="5.2" fill="#fff" stroke="#000" stroke-width="1.0"/>
<line x1="374.50" y1="81.40" x2="374.50" y2="86.60" stroke="#000" stroke-width="0.9" />
<line x1="371.90" y1="84.00" x2="377.10" y2="84.00" stroke="#000" stroke-width="0.9" />
<rect x="393.00" y="80.10" width="5.2" height="5.2" fill="#fff" stroke="#000" stroke-width="1.0"/>
<line x1="395.60" y1="80.10" x2="395.60" y2="85.30" stroke="#000" stroke-width="0.9" />
<line x1="393.00" y1="82.70" x2="398.20" y2="82.70" stroke="#000" stroke-width="0.9" />
<rect x="412.80" y="78.20" width="5.2" height="5.2" fill="#fff" stroke="#000" stroke-width="1.0"/>
<line x1="415.40" y1="78.20" x2="415.40" y2="83.40" stroke="#000" stroke-width="0.9" />
<line x1="412.80" y1="80.80" x2="418.00" y2="80.80" stroke="#000" stroke-width="0.9" />
<rect x="432.00" y="79.60" width="5.2" height="5.2" fill="#fff" stroke="#000" stroke-width="1.0"/>
<line x1="434.60" y1="79.60" x2="434.60" y2="84.80" stroke="#000" stroke-width="0.9" />
<line x1="432.00" y1="82.20" x2="437.20" y2="82.20" stroke="#000" stroke-width="0.9" />
<rect x="450.90" y="86.10" width="5.2" height="5.2" fill="#fff" stroke="#000" stroke-width="1.0"/>
<line x1="453.50" y1="86.10" x2="453.50" y2="91.30" stroke="#000" stroke-width="0.9" />
<line x1="450.90" y1="88.70" x2="456.10" y2="88.70" stroke="#000" stroke-width="0.9" />
<rect x="469.70" y="86.10" width="5.2" height="5.2" fill="#fff" stroke="#000" stroke-width="1.0"/>
<line x1="472.30" y1="86.10" x2="472.30" y2="91.30" stroke="#000" stroke-width="0.9" />
<line x1="469.70" y1="88.70" x2="474.90" y2="88.70" stroke="#000" stroke-width="0.9" />
<polyline points="347.00,86.40 360.70,82.00 374.50,79.30 395.70,76.30 415.40,73.70 434.60,70.80 453.30,67.50 473.00,67.40 491.80,69.30 510.70,70.40" fill="none" stroke="#000" stroke-width="1.3" stroke-linejoin="round" />
<polygon points="343.40,86.40 347.00,82.80 350.60,86.40 347.00,90.00" fill="#000"/>
<polygon points="391.70,76.30 395.70,72.30 399.70,76.30 395.70,80.30" fill="#000"/>
<polygon points="449.30,67.50 453.30,63.50 457.30,67.50 453.30,71.50" fill="#000"/>
<polygon points="506.70,70.40 510.70,66.40 514.70,70.40 510.70,74.40" fill="#000"/>
<line x1="360.70" y1="88.70" x2="360.70" y2="96.80" stroke="#000" stroke-width="1.0" />
<line x1="356.90" y1="88.70" x2="364.50" y2="88.70" stroke="#000" stroke-width="1.0" />
<line x1="356.90" y1="96.80" x2="364.50" y2="96.80" stroke="#000" stroke-width="1.0" />
<line x1="347.60" y1="92.00" x2="347.60" y2="103.40" stroke="#000" stroke-width="1.0" />
<line x1="344.00" y1="92.00" x2="351.20" y2="92.00" stroke="#000" stroke-width="1.0" />
<line x1="344.00" y1="103.40" x2="351.20" y2="103.40" stroke="#000" stroke-width="1.0" />
<polyline points="338.80,220.80 348.00,95.90 352.20,95.60 360.50,89.00 374.50,60.20 395.80,59.30 415.50,70.40 434.40,72.70 453.30,75.40 472.40,73.00 491.20,78.90 510.60,78.90" fill="none" stroke="#000" stroke-width="1.75" stroke-linejoin="round" />
<rect x="343.20" y="91.10" width="9.6" height="9.6" fill="#000"/>
<rect x="347.90" y="91.30" width="8.6" height="8.6" fill="#000"/>
<rect x="356.20" y="84.70" width="8.6" height="8.6" fill="#000"/>
<rect x="370.20" y="55.90" width="8.6" height="8.6" fill="#000"/>
<rect x="391.50" y="55.00" width="8.6" height="8.6" fill="#000"/>
<rect x="411.20" y="66.10" width="8.6" height="8.6" fill="#000"/>
<rect x="430.10" y="68.40" width="8.6" height="8.6" fill="#000"/>
<rect x="449.00" y="71.10" width="8.6" height="8.6" fill="#000"/>
<rect x="468.10" y="68.70" width="8.6" height="8.6" fill="#000"/>
<rect x="486.90" y="74.60" width="8.6" height="8.6" fill="#000"/>
<rect x="506.30" y="74.60" width="8.6" height="8.6" fill="#000"/>
<polygon points="334.90,217.10 342.70,217.10 342.70,224.00 342.00,225.70 335.60,225.70 334.90,224.00" fill="#000"/>
<polygon points="343.84,217.10 351.64,217.10 351.64,224.00 350.94,225.70 344.54,225.70 343.84,224.00" fill="#000"/>
<polygon points="348.31,217.10 356.10,217.10 356.10,224.00 355.40,225.70 349.00,225.70 348.31,224.00" fill="#000"/>
<polygon points="357.24,217.10 365.04,217.10 365.04,224.00 364.34,225.70 357.94,225.70 357.24,224.00" fill="#000"/>
<polygon points="370.65,217.10 378.45,217.10 378.45,224.00 377.75,225.70 371.35,225.70 370.65,224.00" fill="#000"/>
<polygon points="392.35,217.10 400.15,217.10 400.15,224.00 399.45,225.70 393.05,225.70 392.35,224.00" fill="#000"/>
<polygon points="411.50,217.10 419.30,217.10 419.30,224.00 418.60,225.70 412.20,225.70 411.50,224.00" fill="#000"/>
<polyline points="338.80,220.80 415.40,220.80" fill="none" stroke="#000" stroke-width="1.8" stroke-linejoin="round" />
</svg>
</body></html>
